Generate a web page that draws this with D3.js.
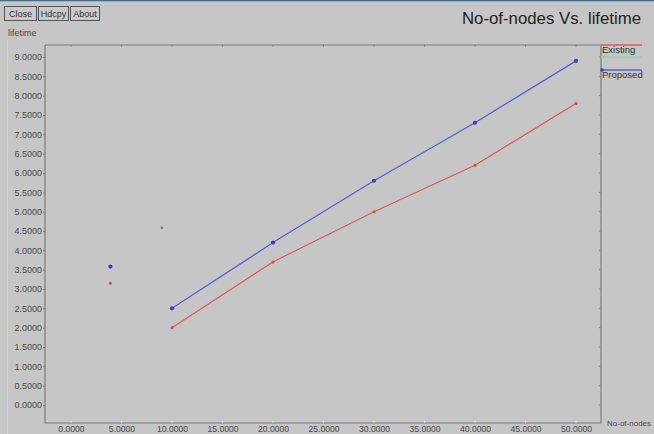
<!DOCTYPE html>
<html>
<head>
<meta charset="utf-8">
<script src="https://cdn.jsdelivr.net/npm/d3@7"></script>
<style>
  html, body { margin: 0; padding: 0; background: #c6c6c6; }
  svg { display: block; font-family: "Liberation Sans", Arial, sans-serif; }
</style>
</head>
<body>
<svg id="chart" width="654" height="434"></svg>
<script>
// Series data: number of nodes vs. network lifetime
const nodeCounts = [10, 20, 30, 40, 50];
const existingLifetime = [2.0, 3.7, 5.0, 6.2, 7.8];
const proposedLifetime = [2.5, 4.2, 5.8, 7.3, 8.9];
// isolated points plotted before the main runs
const existingExtra = [[3.9, 3.15]];
const proposedExtra = [[3.9, 3.58]];
const strayPoint = [[9.0, 4.58]];

const xTicks = [0, 5, 10, 15, 20, 25, 30, 35, 40, 45, 50];
const yTicks = [0, 0.5, 1, 1.5, 2, 2.5, 3, 3.5, 4, 4.5, 5, 5.5, 6, 6.5, 7, 7.5, 8, 8.5, 9];
const buttonLabels = ["Close", "Hdcpy", "About"];
const seriesNames = ["Existing", "", "Proposed"];

const svg = d3.select("#chart");
const bg = "#c6c6c6", ink = "#4a4a4a", frameColor = "#7c7c7c";
const redC = "#dc5a5a", blueC = "#5a5ad8", greenC = "#8fd6a8";

// plot frame
const frame = { left: 45, top: 45, right: 601, bottom: 423 };
const x = d3.scaleLinear().domain([0, 50]).range([71, 576]);
const y = d3.scaleLinear().domain([0, 9]).range([405, 57]);

svg.append("rect").attr("width", 654).attr("height", 434).attr("fill", bg);
// window edge lines
svg.append("line").attr("x1", 0).attr("x2", 654).attr("y1", 0.5).attr("y2", 0.5)
  .attr("stroke", "#3f6c8c").attr("stroke-width", 1.5);
svg.append("line").attr("x1", 7.5).attr("x2", 7.5).attr("y1", 40).attr("y2", 434)
  .attr("stroke", "#d2d2d2");

// buttons
const btnW = [32, 30, 29];
let bx = 4;
buttonLabels.forEach((t, i) => {
  const g = svg.append("g").attr("transform", `translate(${bx},6)`);
  g.append("rect").attr("x", 0.5).attr("y", 0.5).attr("width", btnW[i]).attr("height", 14)
    .attr("fill", "#cacaca").attr("stroke", "#555").attr("stroke-width", 1);
  g.append("text").attr("x", btnW[i] / 2 + 0.5).attr("y", 11).attr("text-anchor", "middle")
    .attr("font-size", 9).attr("fill", "#333").text(t);
  bx += btnW[i] + 2;
});

// title and axis names
svg.append("text").attr("x", 462).attr("y", 24).attr("font-size", 16.8).attr("fill", "#222")
  .text("No-of-nodes Vs. lifetime");
svg.append("text").attr("x", 8).attr("y", 36).attr("font-size", 9).attr("fill", ink).text("lifetime");
svg.append("text").attr("x", 607).attr("y", 426).attr("font-size", 8).attr("fill", ink).text("No-of-nodes");

// frame: top, left, bottom, right
const fr = svg.append("g").attr("stroke", frameColor).attr("stroke-width", 1.2).attr("fill", "none");
fr.append("path").attr("d",
  `M${frame.left},${frame.top}H${frame.right}M${frame.left},${frame.top}V${frame.bottom}H${frame.right}V${frame.top}`);

// y axis labels + ticks
const yAxis = d3.axisLeft(y).tickValues(yTicks).tickFormat(d3.format(".4f")).tickSize(2).tickPadding(1);
const ya = svg.append("g").attr("transform", `translate(${frame.left},0)`).call(yAxis);
ya.select(".domain").remove();
ya.selectAll("line").attr("stroke", frameColor);
ya.selectAll("text").attr("font-size", 9).attr("fill", ink).attr("font-family", "Liberation Sans, Arial, sans-serif");

// x axis labels
const xAxis = d3.axisBottom(x).tickValues(xTicks).tickFormat(d3.format(".4f")).tickSize(0).tickPadding(0);
const xa = svg.append("g").attr("transform", `translate(0,${frame.bottom})`).call(xAxis);
xa.select(".domain").remove();
xa.selectAll("text").attr("font-size", 8.6).attr("fill", ink).attr("dy", null).attr("y", 8.5)
  .attr("font-family", "Liberation Sans, Arial, sans-serif");

// small tick marks on top and bottom edges, right edge
const tk = svg.append("g").attr("stroke", "#8a8a8a").attr("stroke-width", 1);
xTicks.forEach(v => {
  tk.append("line").attr("x1", x(v)).attr("x2", x(v)).attr("y1", frame.top - 1).attr("y2", frame.top + 2);
  tk.append("line").attr("x1", x(v)).attr("x2", x(v)).attr("y1", frame.bottom - 3).attr("y2", frame.bottom)
    .attr("stroke", "#d8d8d8");
});
yTicks.forEach(v => {
  tk.append("line").attr("x1", frame.right - 2).attr("x2", frame.right).attr("y1", y(v)).attr("y2", y(v));
});

// series lines
const line = d3.line().x(d => x(d[0])).y(d => y(d[1]));
const existingPts = nodeCounts.map((n, i) => [n, existingLifetime[i]]);
const proposedPts = nodeCounts.map((n, i) => [n, proposedLifetime[i]]);

svg.append("path").datum(existingPts).attr("d", line).attr("fill", "none")
  .attr("stroke", redC).attr("stroke-width", 1.2);
svg.append("path").datum(proposedPts).attr("d", line).attr("fill", "none")
  .attr("stroke", blueC).attr("stroke-width", 1.2);

function markers(pts, color, r) {
  svg.append("g").selectAll("circle").data(pts).join("circle")
    .attr("cx", d => x(d[0])).attr("cy", d => y(d[1])).attr("r", r).attr("fill", color);
}
markers(existingPts.concat(existingExtra), "#d04848", 1.5);
markers(proposedPts.concat(proposedExtra), "#3c3cd0", 2.1);
markers(strayPoint, "#7a7a7a", 1.3);

// legend on the right margin
const legendColors = [redC, greenC, blueC];
const legendY = [45, 57, 70];
seriesNames.forEach((name, i) => {
  svg.append("line").attr("x1", frame.right).attr("x2", 642)
    .attr("y1", legendY[i]).attr("y2", legendY[i])
    .attr("stroke", legendColors[i]).attr("stroke-width", 1.5);
  if (name) {
    svg.append("text").attr("x", 602).attr("y", legendY[i] + 8).attr("font-size", 9.5)
      .attr("fill", "#333").text(name);
  }
});
svg.append("circle").attr("cx", 602).attr("cy", 70).attr("r", 1.8).attr("fill", "#3c3cd0");
</script>
</body>
</html>
